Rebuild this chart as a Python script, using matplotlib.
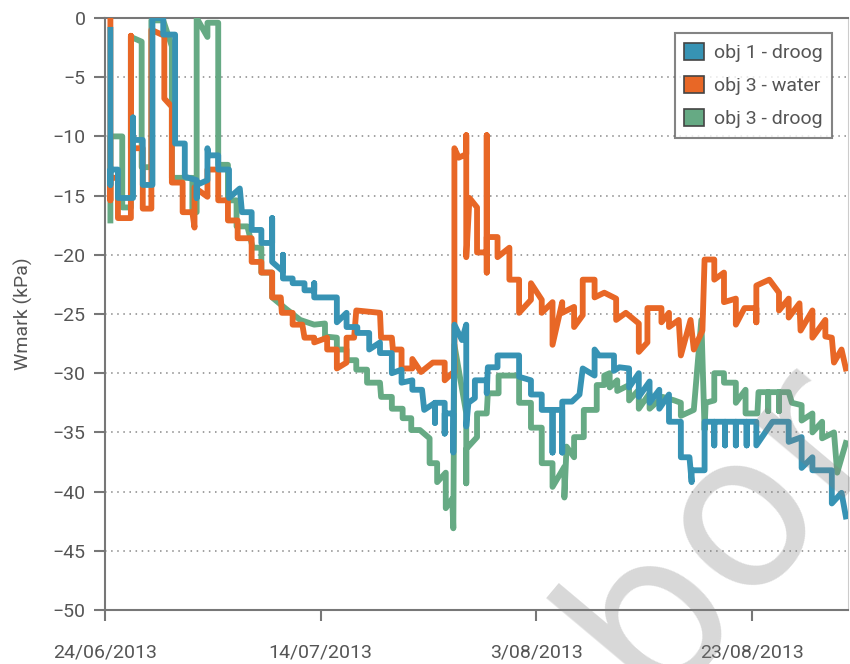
import datetime as dt
import matplotlib
matplotlib.use("Agg")
import matplotlib.pyplot as plt
from matplotlib.patches import Patch

# days since 24/06/2013, values in kPa
blue_day = [0.5, 0.5, 0.5, 1.2, 1.2, 2.6, 2.6, 2.6, 3.5, 3.5, 4.4, 4.4, 5.4, 5.4, 6.5, 6.5, 7.4, 7.4,
            8.5, 8.5, 8.5, 9.5, 9.5, 9.6, 10.5, 10.5, 11.5, 11.5, 12.5, 12.7, 13.6, 13.6, 14.5, 14.5,
            15.5, 15.5, 15.5, 16.5, 16.5, 16.5, 17.4, 17.4, 18.5, 18.5, 19.4, 19.4, 19.4, 20.6, 21.5,
            21.5, 22.4, 22.4, 23.4, 23.4, 24.5, 24.5, 25.5, 25.5, 26.6, 26.6, 27.5, 27.5, 28.5, 28.5,
            29.4, 29.6, 30.6, 30.6, 30.6, 31.5, 31.5, 31.5, 32.3, 32.3, 32.4, 33.1, 33.5, 33.5, 33.7,
            34.3, 34.3, 35.4, 35.4, 35.5, 36.4, 36.4, 38.4, 38.4, 39.5, 39.5, 40.5, 40.5, 41.5, 41.5,
            41.5, 42.4, 42.4, 42.4, 43.3, 44.0, 44.3, 45.4, 45.4, 45.8, 47.2, 47.2, 47.7, 48.6, 48.6,
            49.5, 49.5, 50.5, 50.5, 51.4, 51.4, 52.3, 52.3, 53.4, 53.4, 54.2, 54.4, 54.4, 55.6, 55.6,
            56.5, 56.5, 56.5, 57.5, 57.5, 57.5, 58.5, 58.5, 58.5, 59.5, 59.5, 59.5, 60.4, 60.4, 61.9,
            63.4, 63.4, 64.6, 64.6, 65.6, 65.6, 67.4, 67.4, 68.3, 68.7]
blue_val = [-1.0, -14.1, -12.8, -12.8, -15.2, -15.2, -8.4, -10.3, -10.3, -14.1, -14.1, 0.0, 0.0, -1.4,
            -1.4, -10.6, -10.6, -13.4, -13.7, -15.2, -14.1, -13.7, -11.0, -11.6, -11.6, -12.8, -12.8,
            -15.2, -14.4, -16.4, -16.4, -17.9, -17.9, -19.0, -19.0, -16.9, -20.6, -21.4, -20.0, -22.0,
            -22.0, -22.4, -22.4, -23.0, -23.0, -22.4, -23.6, -23.6, -23.6, -25.7, -24.9, -26.1, -26.1,
            -26.6, -26.6, -28.0, -27.4, -28.3, -28.3, -30.0, -29.7, -30.8, -30.6, -31.4, -31.4, -33.1,
            -32.5, -34.2, -32.5, -32.5, -35.1, -33.4, -33.4, -36.7, -25.9, -27.2, -25.9, -34.5, -32.5,
            -32.1, -30.6, -30.6, -31.7, -29.5, -29.5, -28.5, -28.5, -30.3, -30.6, -31.8, -31.8, -33.1,
            -33.1, -36.7, -33.1, -33.1, -36.7, -32.4, -32.4, -31.8, -29.6, -30.2, -28.0, -28.5, -28.5,
            -29.8, -29.5, -29.6, -31.2, -30.0, -32.0, -30.7, -32.5, -31.4, -33.0, -31.8, -34.1, -34.1,
            -37.1, -37.1, -39.2, -38.2, -38.2, -34.1, -34.1, -36.1, -34.1, -34.1, -36.1, -34.1, -34.1,
            -36.1, -34.1, -34.1, -36.1, -34.1, -34.1, -36.1, -34.1, -34.1, -35.8, -35.4, -38.0, -37.1,
            -38.2, -38.2, -41.0, -40.1, -42.1]

orange_day = [0.5, 0.5, 0.5, 1.2, 1.2, 2.4, 2.4, 2.4, 3.5, 3.5, 3.5, 4.3, 4.3, 5.5, 5.5, 6.2, 6.2, 7.2,
              7.2, 8.1, 8.3, 8.3, 9.5, 9.5, 10.5, 10.5, 11.4, 11.4, 12.3, 12.3, 13.6, 13.6, 14.5, 14.5,
              15.5, 15.5, 16.3, 16.4, 17.4, 17.4, 18.3, 18.5, 19.4, 19.4, 20.6, 20.6, 21.5, 21.5, 22.4,
              22.4, 23.1, 23.3, 25.5, 25.6, 26.6, 26.7, 27.5, 27.5, 28.5, 28.5, 29.3, 30.4, 31.5, 31.5,
              32.2, 32.4, 32.4, 32.8, 33.5, 33.5, 33.5, 33.8, 34.5, 34.5, 35.4, 35.4, 35.4, 35.4, 36.4,
              36.4, 37.5, 37.5, 38.4, 38.4, 39.5, 39.5, 40.5, 40.5, 41.5, 41.5, 42.4, 42.4, 43.5, 43.5,
              44.3, 44.3, 45.4, 45.4, 46.3, 47.4, 47.4, 48.3, 49.5, 49.5, 50.3, 50.3, 51.6, 51.6, 52.3,
              52.3, 53.2, 53.4, 54.3, 54.6, 55.4, 55.6, 56.5, 56.5, 57.4, 57.4, 58.5, 58.5, 59.3, 60.4,
              60.4, 60.4, 61.6, 62.5, 62.5, 63.4, 63.4, 64.4, 64.5, 65.6, 65.6, 66.8, 66.8, 67.4, 67.6,
              68.3, 68.7]
orange_val = [0.0, -15.4, -13.5, -13.5, -16.9, -16.9, -1.5, -11.0, -11.0, -14.4, -16.1, -16.1, -1.0,
              -1.5, -6.8, -7.5, -13.9, -13.9, -16.4, -16.4, -17.7, -14.3, -15.1, -12.8, -12.8, -15.4,
              -15.4, -17.1, -17.1, -18.6, -18.6, -20.6, -20.6, -21.5, -21.5, -23.6, -23.6, -24.9, -24.9,
              -25.9, -25.9, -27.0, -27.0, -27.4, -27.0, -28.0, -28.0, -29.6, -29.1, -27.0, -27.0, -24.7,
              -24.9, -27.0, -27.0, -28.0, -28.0, -29.6, -29.6, -28.8, -29.9, -29.1, -29.1, -30.6, -30.0,
              -30.0, -11.0, -11.8, -11.5, -9.9, -20.2, -15.2, -16.0, -19.8, -19.8, -9.9, -21.5, -18.5,
              -18.5, -20.2, -19.4, -22.1, -22.1, -24.9, -23.8, -22.4, -23.8, -24.9, -24.0, -27.6, -24.0,
              -24.9, -24.4, -26.1, -25.1, -22.1, -22.1, -23.6, -23.2, -23.7, -25.5, -24.9, -25.8, -28.2,
              -27.4, -24.5, -24.5, -25.7, -24.9, -26.1, -25.5, -28.5, -25.5, -28.0, -26.4, -20.4, -20.4,
              -22.1, -21.5, -24.0, -23.7, -25.9, -24.5, -24.5, -25.7, -22.6, -22.1, -23.2, -24.7, -23.7,
              -25.3, -24.1, -26.4, -24.7, -27.0, -25.5, -26.9, -27.0, -29.1, -28.0, -29.6]

green_day = [0.5, 0.5, 1.6, 1.6, 2.4, 2.4, 3.4, 3.4, 4.3, 4.3, 5.4, 6.2, 6.2, 8.1, 8.1, 8.5, 8.5, 9.5,
             9.5, 10.5, 10.5, 11.4, 11.4, 12.2, 12.2, 13.2, 13.7, 14.5, 14.5, 15.5, 15.5, 16.7, 18.1,
             19.4, 20.4, 20.4, 21.5, 21.5, 22.4, 22.4, 23.3, 23.3, 24.3, 24.3, 25.5, 25.6, 26.6, 26.6,
             27.6, 27.6, 28.4, 28.4, 29.2, 30.1, 30.1, 30.8, 30.8, 31.6, 31.6, 32.2, 32.3, 32.4, 33.5,
             33.5, 33.5, 34.5, 34.5, 35.4, 35.5, 36.5, 36.5, 38.4, 38.4, 39.5, 39.5, 40.5, 40.5, 41.5,
             41.5, 42.6, 42.6, 42.8, 43.5, 43.5, 44.4, 44.4, 45.6, 45.6, 46.3, 46.3, 46.8, 46.8, 47.5,
             47.5, 48.6, 48.6, 49.5, 49.5, 50.5, 50.5, 51.7, 52.8, 53.4, 53.4, 54.6, 55.3, 55.6, 55.7,
             56.5, 56.5, 57.4, 57.4, 58.5, 58.5, 59.4, 59.4, 60.5, 60.6, 61.5, 61.5, 61.5, 62.5, 62.5,
             62.5, 63.4, 63.7, 64.6, 64.6, 65.6, 65.6, 66.5, 66.5, 67.6, 67.9, 68.7]
green_val = [-17.1, -10.0, -10.0, -16.0, -16.0, -1.6, -2.0, -12.6, -12.6, -0.2, -0.2, -2.4, -13.5,
             -13.5, -16.4, -16.4, 0.0, -1.6, -0.4, -0.4, -12.4, -12.4, -15.4, -15.4, -17.6, -17.6,
             -19.4, -19.4, -21.5, -21.5, -23.6, -24.5, -25.5, -25.9, -25.8, -26.9, -27.0, -28.0, -28.0,
             -28.9, -28.9, -29.7, -29.7, -30.8, -30.8, -32.0, -32.0, -33.0, -33.0, -33.8, -33.8, -34.8,
             -34.8, -35.5, -37.6, -37.6, -39.2, -38.4, -41.4, -40.6, -43.1, -27.6, -33.4, -39.3, -36.4,
             -35.4, -33.4, -33.4, -31.7, -31.7, -30.2, -30.2, -32.5, -32.5, -34.6, -34.6, -37.6, -37.6,
             -39.6, -37.9, -40.5, -36.2, -37.1, -35.4, -35.4, -33.1, -33.1, -31.0, -31.0, -30.2, -30.0,
             -31.2, -30.6, -31.5, -31.0, -32.3, -31.4, -33.0, -31.7, -33.0, -32.0, -32.3, -32.5, -33.6,
             -33.1, -25.5, -34.8, -32.5, -32.3, -30.0, -30.0, -30.8, -30.8, -32.5, -31.4, -33.4, -33.4,
             -31.6, -31.6, -33.2, -31.6, -31.6, -33.2, -31.6, -31.6, -32.5, -32.7, -34.0, -33.4, -35.0,
             -34.1, -35.5, -35.0, -38.4, -35.9]

series_names = ["obj 1 - droog", "obj 3 - water", "obj 3 - droog"]
series_colors = ["#3793b4", "#e86726", "#66aa84"]
start_date = dt.date(2013, 6, 24)
tick_days = [0, 20, 40, 60]
tick_labels = []
for d in tick_days:
    t = start_date + dt.timedelta(days=d)
    tick_labels.append(f"{t.day}/{t.month:02d}/{t.year}")

plt.rcParams["font.family"] = ["Roboto", "DejaVu Sans"]
grey = "#555555"

fig = plt.figure(figsize=(8.5, 6.64), dpi=100)
ax = fig.add_axes([105 / 850, 1 - 610 / 664, 743 / 850, 592 / 664])

ax.plot(green_day, green_val, color=series_colors[2], lw=4.2, zorder=3)
ax.plot(orange_day, orange_val, color=series_colors[1], lw=4.2, zorder=4)
ax.plot(blue_day, blue_val, color=series_colors[0], lw=4.2, zorder=5)

ax.set_xlim(0, 68.9)
ax.set_ylim(-50, 0)
ax.set_yticks(range(-50, 1, 5))
ax.set_xticks(tick_days)
ax.set_xticklabels(tick_labels)
ax.yaxis.grid(True, linestyle=(0, (1, 3)), color="#888888", lw=1.1)
ax.set_axisbelow(True)

for s in ["left", "bottom", "top"]:
    ax.spines[s].set_color("#777777")
    ax.spines[s].set_linewidth(1.5)
ax.spines["right"].set_color("#cccccc")
ax.tick_params(axis="both", direction="out", length=8, width=1.5, color="#777777",
               labelcolor=grey, labelsize=14)
ax.tick_params(axis="x", pad=16)
ax.tick_params(axis="y", pad=6)
ax.set_ylabel("Wmark (kPa)", color=grey, fontsize=14, labelpad=14)

handles = [Patch(facecolor=c, edgecolor="#444444", lw=1.2) for c in series_colors]
leg = ax.legend(handles, series_names, loc="upper right", bbox_to_anchor=(0.9785, 0.9747),
                borderaxespad=0, fontsize=14, frameon=True, fancybox=False, handlelength=1.0,
                handleheight=1.0, handletextpad=0.5, labelspacing=0.7, borderpad=0.5,
                labelcolor=grey)
leg.get_frame().set_edgecolor("#666666")
leg.get_frame().set_linewidth(1.5)
leg.set_zorder(6)

# watermark
fig.text(728 / 850, 1 - 622 / 664, "abor", fontsize=155, family="DejaVu Sans", color="#7f7f7f",
         alpha=0.3, rotation=50, rotation_mode="anchor", ha="center", va="baseline", zorder=10)

fig.savefig("out.png", dpi=100)
